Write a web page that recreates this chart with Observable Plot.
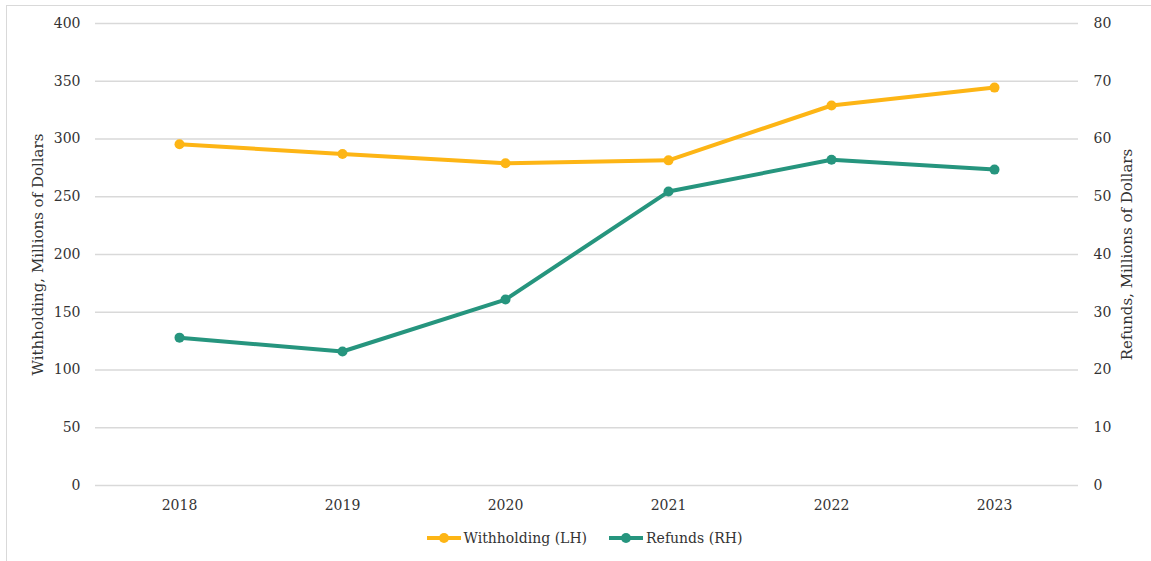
<!DOCTYPE html>
<html>
<head>
<meta charset="utf-8">
<script src="https://cdn.jsdelivr.net/npm/d3@7"></script>
<script src="https://cdn.jsdelivr.net/npm/@observablehq/plot@0.6"></script>
<style>
  html, body { margin: 0; padding: 0; background: #fff; }
  #wrap { position: relative; width: 1151px; height: 561px; overflow: hidden; font-family: "DejaVu Serif", serif; }
  #frame { position: absolute; left: 6px; top: 5px; width: 1200px; height: 600px; border: 1.5px solid #d9d9d9; box-sizing: border-box; }
  #chart { position: absolute; left: 0; top: 0; }
  #legend { position: absolute; top: 530px; left: 0; width: 1151px; display: flex; justify-content: center; gap: 22px; font-size: 14px; color: #333; padding-left: 18px; box-sizing: border-box; }
  .item { display: flex; align-items: center; gap: 3px; }
</style>
</head>
<body>
<div id="wrap">
  <div id="frame"></div>
  <div id="chart"></div>
  <div id="legend"></div>
</div>
<script>
const years = ["2018", "2019", "2020", "2021", "2022", "2023"];
const withholding = [295.5, 287, 279, 281.5, 329, 344.5];
const refunds = [25.6, 23.2, 32.2, 50.9, 56.4, 54.7];
const leftTicks = [0, 50, 100, 150, 200, 250, 300, 350, 400];
const rightTicks = [0, 10, 20, 30, 40, 50, 60, 70, 80];
const seriesNames = ["Withholding (LH)", "Refunds (RH)"];
const colors = ["#fdb515", "#26957e"];
const leftTitle = "Withholding, Millions of Dollars";
const rightTitle = "Refunds, Millions of Dollars";

const ratio = 400 / 80;
const wData = years.map((y, i) => ({year: y, v: withholding[i]}));
const rData = years.map((y, i) => ({year: y, v: refunds[i] * ratio}));

const chart = Plot.plot({
  width: 1151,
  height: 561,
  marginLeft: 95,
  marginRight: 73,
  marginTop: 23,
  marginBottom: 76,
  style: {fontFamily: "DejaVu Serif, serif", fontSize: "14px", color: "#333", background: "transparent"},
  x: {type: "point", domain: years, padding: 0.5},
  y: {domain: [0, 400]},
  marks: [
    Plot.gridY(leftTicks, {stroke: "#d9d9d9", strokeOpacity: 1, strokeWidth: 1.5}),
    Plot.axisY(leftTicks, {anchor: "left", tickSize: 0, tickPadding: 15, label: null, fill: "#333"}),
    Plot.axisY(leftTicks, {anchor: "right", tickSize: 0, tickPadding: 15, label: null, tickFormat: d => String(d / ratio), fill: "#333"}),
    Plot.axisX(years, {anchor: "bottom", tickSize: 0, tickPadding: 15, label: null, fill: "#333"}),
    Plot.text([leftTitle], {frameAnchor: "left", dx: -57, rotate: -90, textAnchor: "middle", fontSize: 15, fill: "#333"}),
    Plot.text([rightTitle], {frameAnchor: "right", dx: 49, rotate: -90, textAnchor: "middle", fontSize: 15, fill: "#333"}),
    Plot.line(wData, {x: "year", y: "v", stroke: colors[0], strokeWidth: 4}),
    Plot.dot(wData, {x: "year", y: "v", fill: colors[0], r: 5}),
    Plot.line(rData, {x: "year", y: "v", stroke: colors[1], strokeWidth: 4}),
    Plot.dot(rData, {x: "year", y: "v", fill: colors[1], r: 5})
  ]
});
document.getElementById("chart").appendChild(chart);

const legend = document.getElementById("legend");
seriesNames.forEach((name, i) => {
  const item = document.createElement("div");
  item.className = "item";
  item.innerHTML = `<svg width="34" height="12"><line x1="0" y1="6" x2="34" y2="6" stroke="${colors[i]}" stroke-width="4"/><circle cx="17" cy="6" r="5" fill="${colors[i]}"/></svg><span>${name}</span>`;
  legend.appendChild(item);
});
</script>
</body>
</html>
